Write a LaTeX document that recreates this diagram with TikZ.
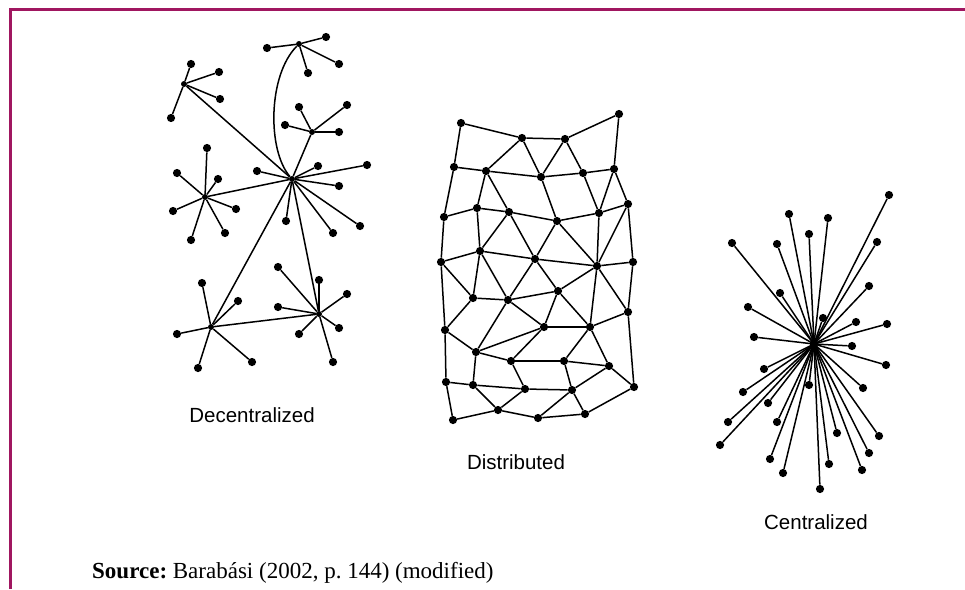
\documentclass[tikz,border=0pt]{standalone}
\usepackage{fontspec}
\setmainfont{Liberation Serif}
\newfontfamily\labfont{Liberation Sans}
\definecolor{framecol}{RGB}{160,22,96}
\begin{document}
\begin{tikzpicture}[x=1pt,y=-1pt,
  dot/.style={circle,fill=black,draw=none,inner sep=0pt,minimum size=8.2pt},
  hub/.style={circle,fill=black,draw=none,inner sep=0pt,minimum size=6pt},
  edge/.style={line width=1.5pt,black},
  lab/.style={font=\labfont\fontsize{20.5}{24}\selectfont,anchor=base},
  framestyle/.style={draw=framecol,line width=2.7pt}]
\useasboundingbox (0,0) rectangle (965,589);
% frame
\coordinate (fb) at (10.3,589);
\coordinate (fc) at (10.3,9.3);
\coordinate (fr) at (965,9.3);
\draw[framestyle] (fb) -- (fc) -- (fr);

% ---------------- Decentralized ----------------
\foreach \n/\x/\y in {T/299/44,UL/184/84,R/312/132,C/292/179,ML/205/197,LL/211/327,LR/319/314}
  \node[hub] (\n) at (\x,\y) {};
\foreach \n/\x/\y in {t1/267/48,t2/326/37,t3/339/64,t4/308/73,
  u1/191/64,u2/219/72,u3/220/99,u4/171/118,
  r1/299/107,r2/347/105,r3/339/132,r4/285/125,
  x1/257/171,x2/318/166,x3/367/165,x4/339/186,x5/286/221,x6/333/233,x7/360/226,
  m1/207/148,m2/177/173,m3/218/179,m4/236/209,m5/173/211,m6/191/240,m7/225/233,
  l1/202/283,l2/238/301,l3/177/334,l4/198/368,l5/252/362,
  k1/278/267,k2/319/280,k3/347/294,k4/278/307,k5/339/328,k6/299/334,k7/333/362}
  \node[dot] (\n) at (\x,\y) {};
\foreach \a/\b in {T/t1,T/t2,T/t3,T/t4,UL/u1,UL/u2,UL/u3,UL/u4,UL/C,
  R/r1,R/r2,R/r3,R/r4,R/C,
  C/x1,C/x2,C/x3,C/x4,C/x5,C/x6,C/x7,C/ML,C/LL,C/LR,LL/LR,
  ML/m1,ML/m2,ML/m3,ML/m4,ML/m5,ML/m6,ML/m7,
  LL/l1,LL/l2,LL/l3,LL/l4,LL/l5,
  LR/k1,LR/k2,LR/k3,LR/k4,LR/k5,LR/k6,LR/k7}
  \draw[edge] (\a) -- (\b);
\draw[edge] (T) .. controls (268,75) and (267,150) .. (C);
\node[lab] (declab) at (252,422) {Decentralized};

% ---------------- Distributed ----------------
\foreach \n/\x/\y in {a1/461/123,a2/522/138,a3/565/139,a4/619/114,
  b1/454/167,b2/486/171,b3/541/177,b4/583/173,b5/614/169,
  c1/444/217,c2/477/208,c3/509/212,c4/557/221,c5/599/213,c6/628/204,
  d1/441/262,d2/480/251,d3/535/259,d4/597/266,d5/633/262,
  e1/473/298,e2/508/300,e3/558/291,e4/628/312,
  f1/445/330,f2/544/327,f3/590/327,
  g1/476/352,g2/511/361,g3/564/361,g4/609/366,
  h1/446/382,h2/473/385,h3/525/389,h4/572/390,h5/634/387,
  i1/453/420,i2/498/410,i3/538/418,i4/585/414}
  \node[dot] (\n) at (\x,\y) {};
\foreach \a/\b in {a1/b1,a1/a2,a2/a3,a3/a4,a4/b5,
  a2/b2,a2/b3,a3/b3,a3/b4,
  b1/b2,b2/b3,b3/b4,b4/b5,
  b1/c1,b2/c2,b2/c3,b3/c4,b4/c5,b5/c5,b5/c6,
  c1/c2,c2/c3,c3/c4,c4/c5,c5/c6,
  c1/d1,c2/d2,c3/d2,c3/d3,c4/d3,c4/d4,c5/d4,c6/d4,c6/d5,
  d1/d2,d2/d3,d3/d4,d4/d5,
  d1/e1,d2/e1,d2/e2,d3/e2,d3/e3,d4/e3,d4/f3,d4/e4,d5/e4,
  d1/f1,e1/e2,e1/f1,e2/f2,e2/g1,e2/e3,e3/f2,e3/f3,
  f2/f3,f3/e4,e4/h5,
  f1/g1,f2/g1,f2/g2,f3/g3,f3/g4,
  g1/g2,g2/g3,g3/g4,g1/h2,g2/h3,g3/h4,g4/h5,g4/h4,
  f1/h1,h1/h2,h2/h3,h3/h4,h2/i2,h3/i2,h4/i3,h4/i4,h1/i1,i1/i2,i2/i3,i3/i4,i4/h5}
  \draw[edge] (\a) -- (\b);
\node[lab] (dislab) at (516,469) {Distributed};

% ---------------- Centralized ----------------
\node[dot] (Z) at (814,344) {};
\foreach \n/\x/\y in {z1/889/195,z2/789/214,z3/828/218,z4/809/234,z5/732/243,z6/777/244,
  z7/877/242,z8/869/286,z9/780/293,z10/748/307,z11/823/318,z12/856/322,z13/887/324,
  z14/754/337,z15/852/346,z16/886/365,z17/764/369,z18/863/388,z19/809/385,z20/743/392,
  z21/768/403,z22/728/422,z23/777/422,z24/837/433,z25/879/436,z26/720/445,z27/869/453,
  z28/770/459,z29/829/464,z30/862/470,z31/783/473,z32/820/489}
  \node[dot] (\n) at (\x,\y) {};
\foreach \i in {1,...,32}
  \draw[edge] (Z.center) -- (z\i);
\node[lab] (cenlab) at (816,529) {Centralized};

% ---------------- Source ----------------
\node[anchor=base west,inner sep=0pt,font=\fontsize{23}{27}\selectfont] (src) at (92,578)
  {\textbf{Source:}~Barabási (2002, p.~144) (modified)};
\end{tikzpicture}
\end{document}
